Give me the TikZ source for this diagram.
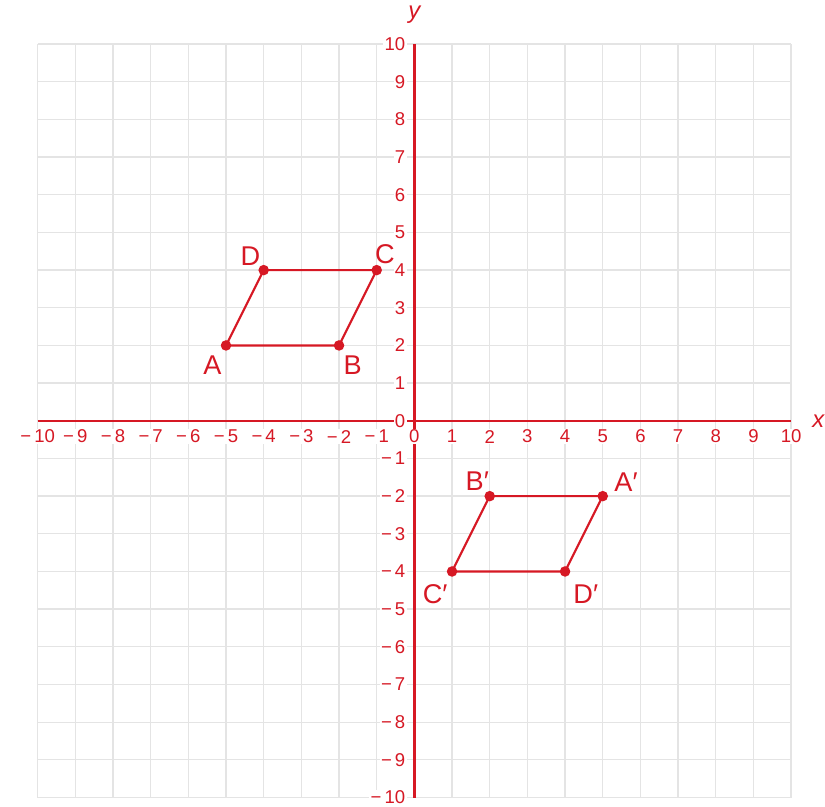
\documentclass[tikz,border=0pt]{standalone}
\usepackage{fontspec}
\setmainfont{Liberation Sans}
\usepackage{xcolor}
\usepackage{tikz}

\definecolor{axisred}{RGB}{214,24,36}
\definecolor{gridgray}{RGB}{228,228,228}

\tikzset{
    ticklabel/.style={text=axisred, fill=white, inner sep=1pt, font=\fontsize{14}{16}\selectfont},
    ptlabel/.style={text=axisred, font=\fontsize{20.5}{24}\selectfont},
    dot/.style={fill=axisred, draw=none}
}

\begin{document}
\begin{tikzpicture}
    \useasboundingbox (-11.0,-10.24) rectangle (10.9,11.17);

    % grid
    \draw[gridgray, line width=1pt] (-10,-10) grid (10,10);

    % axes
    \draw[axisred, line width=1.8pt] (-10,0) -- (10,0);
    \draw[axisred, line width=1.8pt] (0,-10) -- (0,10);
    \node[text=axisred, font=\fontsize{18}{21}\selectfont\itshape] (xlab) at (10.72,0) {x};
    \node[text=axisred, font=\fontsize{18}{21}\selectfont\itshape] (ylab) at (0,10.78) {y};

    % tick labels
    \foreach \i in {1,...,10} {
        \node[ticklabel] at (\i,-0.42) {\i};
        \node[ticklabel] at (-\i,-0.42) {−\,\i};
        \node[ticklabel, anchor=east] at (-0.2,\i) {\i};
        \node[ticklabel, anchor=east] at (-0.2,-\i) {−\,\i};
    }
    \node[ticklabel] (xzero) at (0,-0.42) {0};
    \node[ticklabel, anchor=east] (yzero) at (-0.2,0) {0};

    % ABCD
    \coordinate (A) at (-5,2);
    \coordinate (B) at (-2,2);
    \coordinate (C) at (-1,4);
    \coordinate (D) at (-4,4);
    \draw[axisred, line width=1.6pt] (A) -- (B) -- (C) -- (D) -- cycle;
    \foreach \p in {A,B,C,D} \fill[dot] (\p) circle (0.14);
    \node[ptlabel] (lA) at (-5.36,1.47) {A};
    \node[ptlabel] (lB) at (-1.64,1.47) {B};
    \node[ptlabel, inner sep=0pt] (lC) at (-0.78,4.42) {C};
    \node[ptlabel] (lD) at (-4.35,4.37) {D};

    % A'B'C'D'
    \coordinate (A1) at (5,-2);
    \coordinate (B1) at (2,-2);
    \coordinate (C1) at (1,-4);
    \coordinate (D1) at (4,-4);
    \draw[axisred, line width=1.6pt] (A1) -- (B1) -- (C1) -- (D1) -- cycle;
    \foreach \p in {A1,B1,C1,D1} \fill[dot] (\p) circle (0.14);
    \node[ptlabel] (lA1) at (5.62,-1.63) {A′};
    \node[ptlabel] (lB1) at (1.67,-1.59) {B′};
    \node[ptlabel] (lC1) at (0.55,-4.6) {C′};
    \node[ptlabel] (lD1) at (4.55,-4.6) {D′};
\end{tikzpicture}
\end{document}
